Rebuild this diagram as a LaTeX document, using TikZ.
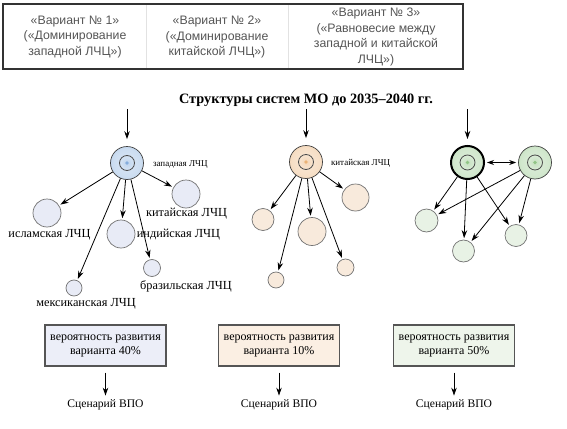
\documentclass[tikz,border=0pt]{standalone}
\usepackage{fontspec}
\setmainfont{Liberation Serif}
\newfontfamily\figsans{Liberation Sans}
\usetikzlibrary{arrows.meta, positioning}
\definecolor{figgrey}{HTML}{555555}
\definecolor{figtab}{HTML}{333333}
\definecolor{figtabsep}{HTML}{E2E2E2}
\definecolor{figblue}{HTML}{6F9FD6}
\definecolor{figorange}{HTML}{E6A45E}
\definecolor{figgreen}{HTML}{7DBB71}
\definecolor{figbluelt}{HTML}{E8EBF6}
\definecolor{figorangelt}{HTML}{F8EADC}
\definecolor{figgreenlt}{HTML}{E8F2E5}
\definecolor{figboxblue}{HTML}{ECEEF8}
\definecolor{figboxorange}{HTML}{FBEFE3}
\definecolor{figboxgreen}{HTML}{EEF5EB}
\colorlet{hubrim}{figblue}
\pgfdeclareradialshading[hubrim]{hubshade}{\pgfpoint{0bp}{0bp}}{%
  color(0bp)=(hubrim!45!white); color(10bp)=(hubrim!30!white); color(21bp)=(hubrim!35!white);
  color(25bp)=(hubrim!40!white); color(50bp)=(hubrim)}
\tikzset{
  figcell/.style={font=\figsans\fontsize{12.3}{15.5}\selectfont, text=figgrey, align=center},
  figtitle/.style={font=\bfseries\fontsize{14.3}{16}\selectfont},
  fighub/.style={circle, draw=black!75, line width=0.7pt, minimum size=33pt, inner sep=0pt,
    /utils/exec={\colorlet{hubrim}{#1}}, shading=hubshade,
    path picture={
      \draw[black!70, line width=0.8pt] (path picture bounding box.center) circle (7.5pt);
      \fill[hubrim!85!white] (path picture bounding box.center) circle (1.8pt);}},
  figsat/.style={circle, draw=black!55, line width=0.7pt, inner sep=0pt, minimum size=#1},
  sblue/.style={fill=figbluelt},
  sorange/.style={fill=figorangelt},
  sgreen/.style={fill=figgreenlt},
  figarrow/.style={-{Stealth[length=8pt, width=5.5pt]}, line width=0.8pt, black, shorten >=1.5pt},
  figlabel/.style={font=\fontsize{12.3}{14}\selectfont, inner sep=1pt},
  fighublabel/.style={font=\fontsize{9}{10}\selectfont, inner sep=1pt},
  figbox/.style={draw=figgrey, line width=1.2pt, minimum width=121pt, minimum height=41pt,
    align=center, font=\fontsize{12}{14}\selectfont},
}

\begin{document}
\begin{tikzpicture}[x=1pt, y=-1pt]
  \useasboundingbox (0,0) rectangle (567,428);
  % variants table
  \draw[figtabsep, line width=0.8pt] (146,4) -- (146,69) (288,4) -- (288,69);
  \draw[figtab, line width=1.2pt] (3,4) rectangle (463,69);
  \node[figcell] (v1) at (75,37) {«Вариант № 1»\\(«Доминирование\\западной ЛЧЦ»)};
  \node[figcell] (v2) at (217,37) {«Вариант № 2»\\(«Доминирование\\китайской ЛЧЦ»)};
  \node[figcell] (v3) at (376,37) {«Вариант № 3»\\(«Равновесие между\\западной и китайской\\ЛЧЦ»)};
  \node[figtitle] (title) at (306,100) {Структуры систем МО до 2035–2040 гг.};

  % variant 1
  \coordinate (t1) at (127,109);
  \node[fighub=figblue] (c1) at (127,163) {};
  \node[fighublabel, right=8pt of c1, yshift=-1.5pt] (lc1) {западная ЛЧЦ};
  \node[figsat=28pt, sblue] (k1) at (186,194) {};
  \node[figsat=28pt, sblue] (i1) at (47,213) {};
  \node[figsat=28pt, sblue] (d1) at (121,234) {};
  \node[figsat=17pt, sblue] (b1) at (152,268) {};
  \node[figsat=16pt, sblue] (m1) at (74,288) {};
  \draw[figarrow, shorten >=7pt] (t1) -- (c1);
  \foreach \s in {k1,i1,d1,b1,m1} \draw[figarrow] (c1) -- (\s);
  \node[figlabel] (lk1) at (186.5,214) {китайская ЛЧЦ};
  \node[figlabel] (li1) at (49.5,235) {исламская ЛЧЦ};
  \node[figlabel] (ld1) at (178.5,235) {индийская ЛЧЦ};
  \node[figlabel] (lb1) at (186,286) {бразильская ЛЧЦ};
  \node[figlabel] (lm1) at (86,304) {мексиканская ЛЧЦ};

  % variant 2
  \coordinate (t2) at (306,109);
  \node[fighub=figorange] (c2) at (306,162) {};
  \node[fighublabel, right=7pt of c2, yshift=-1pt] (lc2) {китайская ЛЧЦ};
  \node[figsat=27pt, sorange] (k2) at (355.5,197.5) {};
  \node[figsat=22pt, sorange] (i2) at (263,219.5) {};
  \node[figsat=28pt, sorange] (d2) at (312,231.5) {};
  \node[figsat=17pt, sorange] (b2) at (345.5,267.5) {};
  \node[figsat=16pt, sorange] (m2) at (276,280) {};
  \draw[figarrow, shorten >=7pt] (t2) -- (c2);
  \foreach \s in {k2,i2,d2,b2,m2} \draw[figarrow] (c2) -- (\s);

  % variant 3
  \coordinate (t3) at (467.5,109);
  \node[fighub=figgreen, draw=black, line width=2pt] (a3) at (467.5,162.5) {};
  \node[fighub=figgreen] (b3) at (535,162.5) {};
  \node[figsat=23pt, sgreen] (s1) at (426.5,220.5) {};
  \node[figsat=22pt, sgreen] (s2) at (463.5,251) {};
  \node[figsat=22pt, sgreen] (s3) at (516,235.5) {};
  \draw[figarrow, shorten >=6pt] (t3) -- (a3);
  \draw[figarrow, {Stealth[length=7pt, width=5pt]}-{Stealth[length=7pt, width=5pt]},
    shorten <=2pt, shorten >=2pt] (a3) -- (b3);
  \foreach \h in {a3,b3}
    \foreach \s in {s1,s2,s3} \draw[figarrow] (\h) -- (\s);

  % probabilities
  \node[figbox, fill=figboxblue] (p1) at (105.5,345.5) {вероятность развития\\варианта 40\%};
  \node[figbox, fill=figboxorange] (p2) at (279,345.5) {вероятность развития\\варианта 10\%};
  \node[figbox, fill=figboxgreen] (p3) at (454,345.5) {вероятность развития\\варианта 50\%};
  \foreach \p in {1,2,3} {
    \node[figlabel, font=\fontsize{11.6}{13}\selectfont, below=32pt of p\p] (sc\p) {Сценарий ВПО};
    \draw[figarrow, shorten <=6pt, shorten >=3pt] (p\p) -- (sc\p);
  }
\end{tikzpicture}
\end{document}
